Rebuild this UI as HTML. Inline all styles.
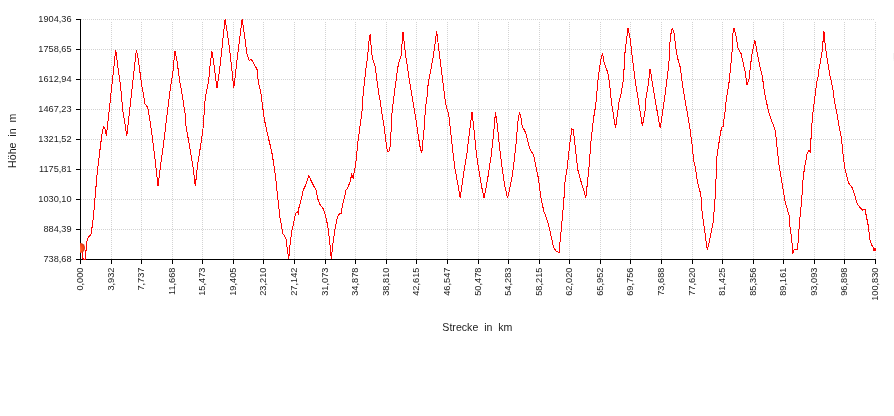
<!DOCTYPE html><html><head><meta charset="utf-8"><style>html,body{margin:0;padding:0;background:#fff;width:894px;height:416px;overflow:hidden}svg{display:block;will-change:transform}text{font-family:"Liberation Sans",Arial,sans-serif;fill:#222}</style></head><body>
<svg width="894" height="416" viewBox="0 0 894 416">
<g stroke="#d3d3d3" stroke-width="1" stroke-dasharray="1 1" fill="none" shape-rendering="crispEdges"><path d="M81 19.5H874" /><path d="M81 49.5H874" /><path d="M81 79.5H874" /><path d="M81 109.5H874" /><path d="M81 139.5H874" /><path d="M81 169.5H874" /><path d="M81 199.5H874" /><path d="M81 229.5H874" /><path d="M111.5 22V259" /><path d="M141.5 22V259" /><path d="M172.5 22V259" /><path d="M202.5 22V259" /><path d="M233.5 22V259" /><path d="M263.5 22V259" /><path d="M294.5 22V259" /><path d="M325.5 22V259" /><path d="M355.5 22V259" /><path d="M386.5 22V259" /><path d="M416.5 22V259" /><path d="M447.5 22V259" /><path d="M478.5 22V259" /><path d="M508.5 22V259" /><path d="M539.5 22V259" /><path d="M569.5 22V259" /><path d="M600.5 22V259" /><path d="M630.5 22V259" /><path d="M661.5 22V259" /><path d="M692.5 22V259" /><path d="M722.5 22V259" /><path d="M753.5 22V259" /><path d="M783.5 22V259" /><path d="M814.5 22V259" /><path d="M844.5 22V259" /><path d="M875.5 22V259" /></g>
<g stroke="#000" stroke-width="1" fill="none" shape-rendering="crispEdges"><path d="M80.5 19V260" /><path d="M80 259.5H876" /><path d="M76 19.5H80" /><path d="M76 49.5H80" /><path d="M76 79.5H80" /><path d="M76 109.5H80" /><path d="M76 139.5H80" /><path d="M76 169.5H80" /><path d="M76 199.5H80" /><path d="M76 229.5H80" /><path d="M76 259.5H80" /><path d="M80.5 260V264" /><path d="M111.5 260V264" /><path d="M141.5 260V264" /><path d="M172.5 260V264" /><path d="M202.5 260V264" /><path d="M233.5 260V264" /><path d="M263.5 260V264" /><path d="M294.5 260V264" /><path d="M325.5 260V264" /><path d="M355.5 260V264" /><path d="M386.5 260V264" /><path d="M416.5 260V264" /><path d="M447.5 260V264" /><path d="M478.5 260V264" /><path d="M508.5 260V264" /><path d="M539.5 260V264" /><path d="M569.5 260V264" /><path d="M600.5 260V264" /><path d="M630.5 260V264" /><path d="M661.5 260V264" /><path d="M692.5 260V264" /><path d="M722.5 260V264" /><path d="M753.5 260V264" /><path d="M783.5 260V264" /><path d="M814.5 260V264" /><path d="M844.5 260V264" /><path d="M875.5 260V264" /></g>
<path d="M80.00 248.00 L82.50 252.00 L82.50 257.50 L83.50 259.50 L84.50 259.50 L85.50 259.50 L85.50 251.00 L86.50 250.00 L86.50 243.00 L87.60 238.50 L88.70 236.60 L91.00 234.30 L92.10 226.90 L93.60 215.00 L94.70 201.50 L97.20 173.00 L99.60 152.90 L102.00 133.70 L103.50 126.40 L104.90 128.00 L106.40 136.00 L115.70 50.00 L118.20 69.60 L119.70 79.20 L120.90 90.00 L122.70 110.00 L126.80 135.60 L136.40 50.00 L138.00 58.00 L141.70 84.70 L145.00 104.00 L147.70 107.50 L150.10 121.60 L152.50 138.50 L154.90 157.70 L158.00 186.00 L160.90 162.50 L163.30 145.70 L165.40 128.80 L166.30 120.00 L167.50 112.00 L168.50 103.00 L169.60 95.00 L170.60 86.00 L172.60 75.00 L174.90 51.00 L176.60 58.00 L179.80 81.60 L182.20 95.00 L185.00 113.00 L185.70 124.00 L188.60 140.90 L191.00 155.30 L193.40 169.70 L195.30 186.00 L197.60 165.00 L200.60 145.70 L203.00 128.80 L205.10 100.00 L206.30 92.50 L208.70 80.00 L210.30 63.00 L211.90 51.00 L213.80 63.00 L217.00 88.30 L219.80 68.00 L222.20 46.00 L225.10 19.00 L228.20 39.00 L230.60 58.00 L233.80 88.30 L236.70 63.00 L239.00 43.80 L242.20 19.00 L245.00 39.00 L246.80 53.50 L249.20 60.70 L251.00 58.75 L253.50 63.00 L257.10 69.60 L258.00 79.00 L259.20 85.80 L260.70 92.00 L264.30 119.20 L267.90 136.00 L271.50 150.50 L273.90 164.90 L275.80 179.30 L277.60 196.00 L279.90 217.90 L281.50 225.00 L282.50 233.75 L284.40 235.60 L286.00 238.75 L286.90 246.25 L287.90 253.75 L288.80 259.00 L289.75 247.50 L290.60 240.00 L292.25 228.75 L293.75 222.50 L295.00 216.25 L296.25 212.50 L297.50 211.30 L298.40 215.00 L298.90 208.00 L300.80 201.10 L303.20 190.20 L305.60 185.40 L308.80 175.80 L311.70 181.80 L314.10 186.60 L316.00 190.20 L317.70 198.65 L320.10 204.70 L323.70 209.50 L326.10 217.90 L328.00 227.50 L329.70 241.90 L331.30 259.00 L332.80 244.30 L334.50 232.30 L336.40 221.50 L338.10 215.50 L340.00 213.10 L341.00 214.30 L342.40 205.90 L344.10 198.65 L346.00 190.20 L347.70 187.80 L350.10 181.80 L351.70 174.40 L353.50 179.20 L354.10 172.00 L355.60 165.00 L356.10 160.10 L358.00 140.90 L359.70 128.80 L362.20 110.00 L363.40 90.00 L364.60 81.60 L365.60 70.80 L366.80 62.40 L367.70 56.00 L368.90 41.40 L370.10 34.20 L371.75 53.50 L373.00 60.00 L374.80 64.80 L376.00 73.20 L378.40 91.25 L380.80 104.50 L381.60 112.00 L383.80 124.00 L386.70 148.00 L388.10 151.70 L389.80 150.50 L391.50 124.00 L391.80 115.00 L392.30 110.00 L394.70 90.00 L395.90 81.60 L397.10 72.00 L398.30 64.80 L399.50 60.70 L401.00 55.90 L403.00 32.30 L405.40 53.50 L409.00 77.50 L412.60 99.00 L416.20 121.60 L419.80 145.70 L421.75 153.40 L424.60 124.00 L425.00 115.00 L425.30 110.00 L427.10 96.00 L428.30 82.20 L430.50 72.00 L431.40 66.00 L432.50 61.00 L434.20 50.00 L436.70 31.30 L439.00 51.00 L442.70 80.00 L445.10 100.00 L446.30 106.30 L448.70 114.40 L451.10 136.00 L454.70 167.30 L457.80 184.10 L460.20 198.20 L463.10 176.90 L466.70 155.30 L469.60 131.25 L472.00 112.00 L473.90 128.80 L476.30 152.90 L478.00 164.90 L481.60 186.50 L484.00 198.20 L487.60 179.30 L491.20 155.30 L493.60 133.70 L495.50 112.00 L497.20 124.00 L499.60 148.00 L502.00 167.30 L504.90 186.50 L507.60 198.20 L509.50 190.00 L511.00 182.00 L512.10 177.00 L513.90 163.20 L515.30 151.00 L516.10 143.00 L516.80 135.30 L517.60 123.75 L519.40 112.20 L520.90 117.00 L521.60 123.80 L523.10 128.00 L525.20 131.70 L526.70 136.70 L529.60 148.30 L531.00 151.20 L533.20 154.00 L534.60 159.80 L535.60 165.00 L538.60 179.30 L541.20 200.00 L544.10 211.90 L546.50 217.90 L548.90 226.30 L551.30 237.10 L553.70 247.90 L556.10 251.00 L559.00 252.70 L560.50 237.10 L562.10 220.30 L563.80 201.00 L565.00 181.80 L566.90 169.80 L569.30 148.00 L571.75 128.80 L573.40 130.00 L575.40 148.00 L577.80 169.70 L581.40 182.90 L583.80 190.10 L585.70 198.40 L588.60 172.10 L591.00 140.90 L593.40 119.20 L595.80 104.80 L598.20 77.50 L600.60 60.70 L602.50 53.00 L604.20 63.00 L607.80 72.70 L609.70 84.70 L611.40 101.50 L615.50 128.40 L619.30 100.00 L621.00 94.30 L623.40 80.00 L625.10 51.00 L628.00 28.20 L630.20 39.00 L633.00 63.00 L635.50 82.30 L638.30 100.00 L642.40 126.00 L645.20 110.00 L645.60 101.50 L646.60 93.70 L647.80 87.60 L648.70 82.80 L649.40 72.00 L650.10 68.80 L652.30 82.30 L655.40 101.50 L660.20 128.40 L664.00 102.00 L665.20 93.70 L666.40 84.00 L667.60 74.40 L668.90 63.00 L670.30 36.60 L672.20 28.20 L673.90 31.80 L676.30 51.00 L678.00 59.50 L680.40 67.90 L682.80 87.00 L685.20 101.50 L687.60 114.40 L690.00 128.80 L691.90 143.30 L693.60 160.10 L695.30 167.30 L697.20 180.00 L699.20 189.00 L700.80 194.00 L702.00 210.70 L703.20 220.30 L704.90 232.30 L707.30 250.30 L709.25 241.90 L711.65 229.90 L713.60 220.30 L714.50 203.50 L715.30 196.25 L716.00 179.40 L716.50 160.10 L718.90 143.30 L720.80 131.25 L722.00 127.00 L723.20 126.40 L724.60 114.40 L725.30 110.00 L726.50 97.30 L727.70 91.25 L728.90 84.00 L729.50 76.80 L730.40 70.30 L732.10 51.00 L732.80 34.20 L734.00 28.20 L735.70 34.20 L738.10 48.70 L741.00 53.50 L742.90 61.90 L745.30 72.70 L747.00 84.70 L748.90 79.90 L750.80 63.00 L752.50 51.00 L754.90 40.20 L757.30 53.50 L759.70 65.50 L762.10 75.00 L764.50 92.00 L766.90 104.00 L768.10 109.60 L770.50 118.00 L772.95 124.00 L775.40 131.25 L776.60 143.30 L779.00 164.90 L780.20 172.20 L781.40 179.30 L782.60 186.60 L785.00 201.00 L787.40 209.50 L789.10 215.50 L789.80 225.10 L791.50 237.10 L792.90 252.70 L794.60 249.10 L797.00 249.60 L798.20 241.90 L799.40 222.70 L801.60 201.00 L803.20 177.00 L804.60 167.60 L806.40 157.40 L807.40 152.60 L808.80 150.80 L809.80 150.20 L810.30 153.40 L810.80 142.00 L811.90 124.00 L813.30 109.00 L814.50 100.90 L815.70 90.00 L816.90 81.60 L818.10 76.80 L818.70 70.80 L819.90 64.80 L822.20 51.00 L823.90 31.30 L825.10 43.80 L827.00 58.30 L829.40 72.70 L833.00 89.50 L834.25 100.00 L836.70 112.00 L839.10 126.40 L841.50 138.50 L843.40 157.70 L845.10 169.70 L846.30 174.60 L848.70 183.00 L852.30 187.80 L854.70 195.00 L857.10 203.50 L860.70 208.30 L862.60 210.20 L865.00 209.50 L866.70 217.90 L868.60 227.50 L869.50 237.00 L870.50 242.00 L872.40 246.30 L874.00 248.50 L875.00 249.30" fill="none" stroke="#ff0000" stroke-width="1" shape-rendering="crispEdges"/>
<rect x="874" y="248" width="2" height="3" fill="#ff0000"/><rect x="873" y="249" width="1" height="2" fill="#ff0000"/>
<rect x="893" y="53" width="1" height="6" fill="#f3f3f3"/><rect x="893" y="59" width="1" height="2" fill="#f8f8f8"/>
<defs><radialGradient id="bg" cx="0.5" cy="0.5" r="0.5" fx="0.3" fy="0.8"><stop offset="0" stop-color="#ffb890"/><stop offset="0.35" stop-color="#ff6a3a"/><stop offset="0.75" stop-color="#ff4414"/><stop offset="1" stop-color="#c8361a"/></radialGradient><clipPath id="cp"><rect x="80" y="0" width="800" height="300"/></clipPath></defs>
<circle cx="80" cy="247.9" r="5" fill="url(#bg)" clip-path="url(#cp)"/>
<text transform="translate(71.6 22) scale(0.96 1)" font-size="9.6" text-anchor="end">1904,36</text>
<text transform="translate(71.6 52) scale(0.96 1)" font-size="9.6" text-anchor="end">1758,65</text>
<text transform="translate(71.6 82) scale(0.96 1)" font-size="9.6" text-anchor="end">1612,94</text>
<text transform="translate(71.6 112) scale(0.96 1)" font-size="9.6" text-anchor="end">1467,23</text>
<text transform="translate(71.6 142) scale(0.96 1)" font-size="9.6" text-anchor="end">1321,52</text>
<text transform="translate(71.6 172) scale(0.96 1)" font-size="9.6" text-anchor="end">1175,81</text>
<text transform="translate(71.6 202) scale(0.96 1)" font-size="9.6" text-anchor="end">1030,10</text>
<text transform="translate(71.6 232) scale(0.96 1)" font-size="9.6" text-anchor="end">884,39</text>
<text transform="translate(71.6 262) scale(0.96 1)" font-size="9.6" text-anchor="end">738,68</text>
<text transform="translate(83.2 267.6) rotate(-90) scale(0.96 1)" font-size="9.6" text-anchor="end">0,000</text>
<text transform="translate(114.2 267.6) rotate(-90) scale(0.96 1)" font-size="9.6" text-anchor="end">3,932</text>
<text transform="translate(144.2 267.6) rotate(-90) scale(0.96 1)" font-size="9.6" text-anchor="end">7,737</text>
<text transform="translate(175.2 267.6) rotate(-90) scale(0.96 1)" font-size="9.6" text-anchor="end">11,668</text>
<text transform="translate(205.2 267.6) rotate(-90) scale(0.96 1)" font-size="9.6" text-anchor="end">15,473</text>
<text transform="translate(236.2 267.6) rotate(-90) scale(0.96 1)" font-size="9.6" text-anchor="end">19,405</text>
<text transform="translate(266.2 267.6) rotate(-90) scale(0.96 1)" font-size="9.6" text-anchor="end">23,210</text>
<text transform="translate(297.2 267.6) rotate(-90) scale(0.96 1)" font-size="9.6" text-anchor="end">27,142</text>
<text transform="translate(328.2 267.6) rotate(-90) scale(0.96 1)" font-size="9.6" text-anchor="end">31,073</text>
<text transform="translate(358.2 267.6) rotate(-90) scale(0.96 1)" font-size="9.6" text-anchor="end">34,878</text>
<text transform="translate(389.2 267.6) rotate(-90) scale(0.96 1)" font-size="9.6" text-anchor="end">38,810</text>
<text transform="translate(419.2 267.6) rotate(-90) scale(0.96 1)" font-size="9.6" text-anchor="end">42,615</text>
<text transform="translate(450.2 267.6) rotate(-90) scale(0.96 1)" font-size="9.6" text-anchor="end">46,547</text>
<text transform="translate(481.2 267.6) rotate(-90) scale(0.96 1)" font-size="9.6" text-anchor="end">50,478</text>
<text transform="translate(511.2 267.6) rotate(-90) scale(0.96 1)" font-size="9.6" text-anchor="end">54,283</text>
<text transform="translate(542.2 267.6) rotate(-90) scale(0.96 1)" font-size="9.6" text-anchor="end">58,215</text>
<text transform="translate(572.2 267.6) rotate(-90) scale(0.96 1)" font-size="9.6" text-anchor="end">62,020</text>
<text transform="translate(603.2 267.6) rotate(-90) scale(0.96 1)" font-size="9.6" text-anchor="end">65,952</text>
<text transform="translate(633.2 267.6) rotate(-90) scale(0.96 1)" font-size="9.6" text-anchor="end">69,756</text>
<text transform="translate(664.2 267.6) rotate(-90) scale(0.96 1)" font-size="9.6" text-anchor="end">73,688</text>
<text transform="translate(695.2 267.6) rotate(-90) scale(0.96 1)" font-size="9.6" text-anchor="end">77,620</text>
<text transform="translate(725.2 267.6) rotate(-90) scale(0.96 1)" font-size="9.6" text-anchor="end">81,425</text>
<text transform="translate(756.2 267.6) rotate(-90) scale(0.96 1)" font-size="9.6" text-anchor="end">85,356</text>
<text transform="translate(786.2 267.6) rotate(-90) scale(0.96 1)" font-size="9.6" text-anchor="end">89,161</text>
<text transform="translate(817.2 267.6) rotate(-90) scale(0.96 1)" font-size="9.6" text-anchor="end">93,093</text>
<text transform="translate(847.2 267.6) rotate(-90) scale(0.96 1)" font-size="9.6" text-anchor="end">96,898</text>
<text transform="translate(878.2 267.6) rotate(-90) scale(0.96 1)" font-size="9.6" text-anchor="end">100,830</text>
<text transform="translate(15.9 140.8) rotate(-90)" font-size="10.6" text-anchor="middle" xml:space="preserve" style="white-space:pre">Höhe  in  m</text>
<text x="477.4" y="331.4" font-size="10.6" text-anchor="middle" xml:space="preserve" style="white-space:pre">Strecke  in  km</text>
</svg></body></html>
